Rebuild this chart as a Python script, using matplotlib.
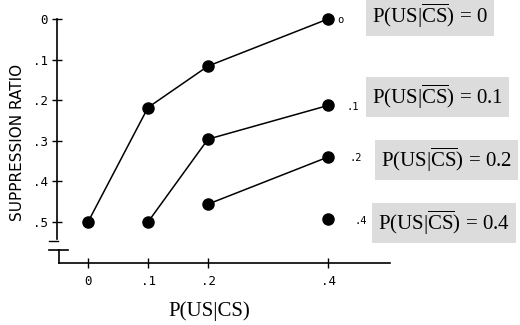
import matplotlib
matplotlib.use('Agg')
import matplotlib.pyplot as plt

# Donnees
p_cs = [0, .1, .2, .4]
serie_0 = [.5, .218, .116, 0.0]      # P(US|CS barre) = 0
serie_1 = [.5, .296, .213]           # = 0.1
serie_2 = [.456, .34]                # = 0.2
serie_4 = [.493]                     # = 0.4
noms = ['o', '.1', '.2', '.4']
legendes = ['0', '0.1', '0.2', '0.4']

plt.rcParams['mathtext.fontset'] = 'custom'
plt.rcParams['mathtext.rm'] = 'Liberation Serif'

fig = plt.figure(figsize=(5.2, 3.25), dpi=100)
W, H = 520, 325

# axes placees pour que x=0 -> 88 px, 0.1 -> 60 px ; y=0 -> 19 px, 0.1 -> 40.6 px
x0, x1 = -0.08, 0.52
y0, y1 = -0.0345, 0.6305
ax = fig.add_axes([(88 + x0*600)/W, 1 - (19 + y1*406)/H,
                   (x1 - x0)*600/W, (y1 - y0)*406/H])
ax.set_xlim(x0, x1)
ax.set_ylim(y1, y0)
ax.patch.set_visible(False)

for s in ['top', 'right']:
    ax.spines[s].set_visible(False)
ax.spines['left'].set_position(('data', -0.0517))
ax.spines['left'].set_bounds(0, 0.542)
ax.spines['bottom'].set_position(('data', 0.601))
ax.spines['bottom'].set_bounds(-0.048, 0.503)
for s in ['left', 'bottom']:
    ax.spines[s].set_linewidth(1.2)

ax.set_yticks([0, .1, .2, .3, .4, .5])
ax.set_yticklabels(['0', '.1', '.2', '.3', '.4', '.5'])
ax.set_xticks(p_cs)
ax.set_xticklabels(['0', '.1', '.2', '.4'])
ax.tick_params(direction='inout', length=7, width=1, labelsize=9)
ax.tick_params(axis='x', pad=5)
ax.tick_params(axis='y', pad=3)
for lab in ax.get_xticklabels() + ax.get_yticklabels():
    lab.set_family('DejaVu Sans Mono')

# coupure de l'axe
ax.plot([-0.065, -0.05], [0.548, 0.548], 'k-', lw=1, clip_on=False)
ax.plot([-0.065, -0.033], [0.569, 0.569], 'k-', lw=1.2, clip_on=False)
ax.plot([-0.048, -0.048], [0.569, 0.601], 'k-', lw=1.2, clip_on=False)

# courbes
ax.plot(p_cs, serie_0, 'k-', lw=1.1, marker='o', ms=8)
ax.plot(p_cs[1:], serie_1, 'k-', lw=1.1, marker='o', ms=8)
ax.plot(p_cs[2:], serie_2, 'k-', lw=1.1, marker='o', ms=8)
ax.plot(p_cs[3:], serie_4, 'k-', lw=1.1, marker='o', ms=8)

derniers = [serie_0[-1], serie_1[-1], serie_2[-1], serie_4[-1]]
decal = [12, 25, 28, 33]
for nom, yv, dx in zip(noms, derniers, decal):
    ax.annotate(nom, (0.4, yv), xytext=(dx*0.72, -1), textcoords='offset points',
                ha='center', va='center', fontsize=7.5, family='DejaVu Sans Mono')

# boites grises
boites = [(372, 16), (372, 97), (381, 160), (378, 223)]
for leg, (bx, by) in zip(legendes, boites):
    fig.text(bx/W, 1 - by/H, r'P(US|$\overline{\mathrm{CS}}$) = ' + leg,
             ha='left', va='center', fontsize=15, family='Liberation Serif',
             bbox=dict(boxstyle='square,pad=0.3', fc='#dcdcdc', ec='none'))

fig.text(18/W, 1 - 142/H, 'SUPPRESSION RATIO', rotation=90, ha='center',
         va='center', fontsize=11, family='DejaVu Sans')
fig.text(209/W, 1 - 311/H, 'P(US|CS)', ha='center', va='center',
         fontsize=15, family='Liberation Serif')

fig.savefig('out.png', dpi=100)
